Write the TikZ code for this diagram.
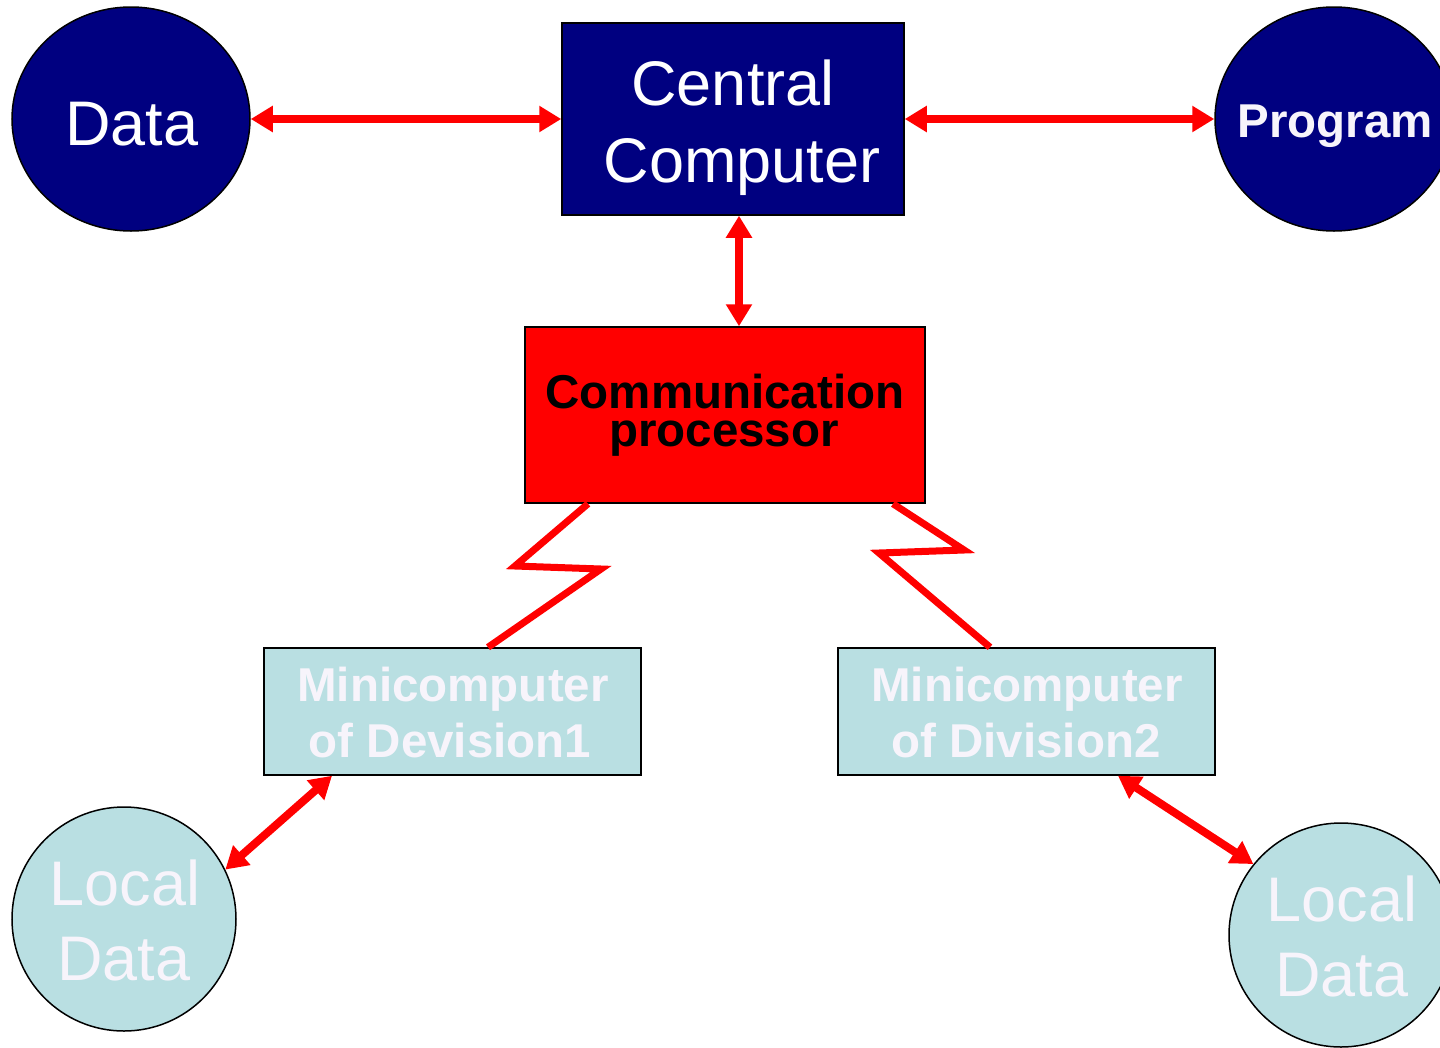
\documentclass[tikz,border=0pt]{standalone}
\usepackage{fontspec}
\setmainfont{Liberation Sans}
\usetikzlibrary{shapes.geometric,arrows.meta}
\definecolor{navy}{RGB}{0,0,128}
\definecolor{lblue}{RGB}{185,223,226}
\definecolor{twhite}{RGB}{247,244,251}
\tikzset{
  ovalshape/.style={ellipse, draw=black, line width=1.5pt, inner sep=0pt},
  boxshape/.style={rectangle, draw=black, line width=1.5pt, inner sep=0pt},
  lab/.style={anchor=base, inner sep=0pt},
  reg/.style={font=\fontsize{63}{63}\selectfont},
  bld/.style={font=\fontsize{47.5}{47.5}\selectfont\bfseries},
  arr/.style={draw=red, line width=8pt, {Triangle[length=22pt,width=25pt]}-{Triangle[length=22pt,width=25pt]}},
  zig/.style={draw=red, line width=7pt, line join=miter},
}
\begin{document}
\begin{tikzpicture}[x=1pt,y=-1pt]
\useasboundingbox (0,0) rectangle (1440,1047);
\clip (0,0) rectangle (1440,1047);
% shapes
\node[ovalshape, fill=navy, minimum width=238pt, minimum height=224pt] (d) at (131,119) {};
\node[ovalshape, fill=navy, minimum width=238pt, minimum height=224pt] (p) at (1334,119) {};
\node[boxshape, fill=navy, minimum width=342pt, minimum height=192pt] (cc) at (733,119) {};
\node[boxshape, fill=red, minimum width=400pt, minimum height=176pt] (cp) at (725,415) {};
\node[boxshape, fill=lblue, minimum width=377pt, minimum height=127pt] (m1) at (452.5,711.5) {};
\node[boxshape, fill=lblue, minimum width=377pt, minimum height=127pt] (m2) at (1026.5,711.5) {};
\node[circle, draw=black, line width=1.5pt, inner sep=0pt, fill=lblue, minimum size=224pt] (ld1) at (124,919) {};
\node[circle, draw=black, line width=1.5pt, inner sep=0pt, fill=lblue, minimum size=224pt] (ld2) at (1341,935) {};
% texts
\node[lab, reg, text=white] (dt) at (132,145) {Data};
\node[lab, reg, text=white] (cct1) at (733,105) {Central};
\node[lab, reg, text=white] (cct2) at (742,182) {Computer};
\node[lab, bld, text=twhite] (pt) at (1335,137) {Program};
\node[lab, bld, text=black] (cpt1) at (725,408) {Communication};
\node[lab, bld, text=black] (cpt2) at (724,446) {processor};
\node[lab, bld, text=twhite] (m1t1) at (453,701) {Minicomputer};
\node[lab, bld, text=twhite] (m1t2) at (450,757) {of Devision1};
\node[lab, bld, text=twhite] (m2t1) at (1027,701) {Minicomputer};
\node[lab, bld, text=twhite] (m2t2) at (1026,757) {of Division2};
\node[lab, reg, text=twhite] (l1a) at (125,905) {Local};
\node[lab, reg, text=twhite] (l1b) at (124,980) {Data};
\node[lab, reg, text=twhite] (l2a) at (1342,921) {Local};
\node[lab, reg, text=twhite] (l2b) at (1342,996) {Data};
% connectors
\draw[arr] (d.east) -- (cc.west);
\draw[arr] (cc.east) -- (p.west);
\draw[arr] ([xshift=6pt]cc.south) -- ([xshift=6pt]cc.south |- cp.north);
\draw[zig] (cp.south -| 588,0) -- (515,566) -- (601,569) -- (m1.north -| 488,0);
\draw[zig] (cp.south -| 893,0) -- (964,550) -- (879,553) -- (m2.north -| 990,0);
\draw[arr] (m1.south -| 332,0) -- (ld1.26);
\draw[arr] (m2.south -| 1118,0) -- (ld2.141);
\end{tikzpicture}
\end{document}
